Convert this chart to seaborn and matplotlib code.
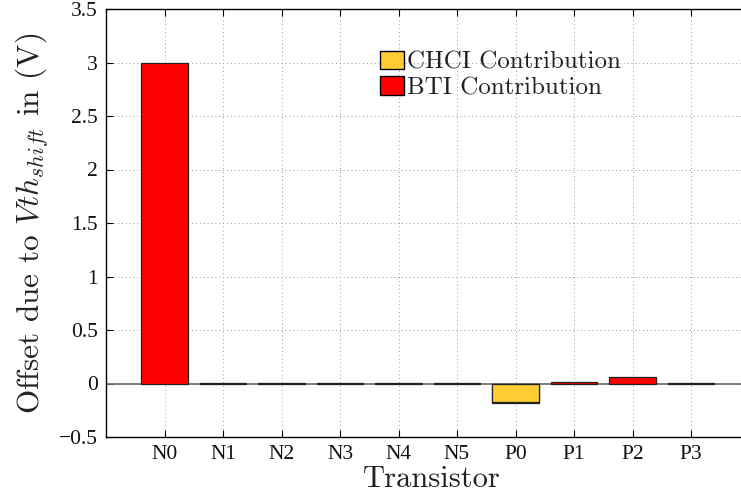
import numpy as np
import pandas as pd
import matplotlib
matplotlib.use("Agg")
import matplotlib.pyplot as plt
from matplotlib.patches import Patch
import seaborn as sns

transistors = ["N0", "N1", "N2", "N3", "N4", "N5", "P0", "P1", "P2", "P3"]
chci = [0.0, 0.0, 0.0, 0.0, 0.0, 0.0, -0.175, 0.0, 0.0, 0.0]
bti = [3.0, 0.004, 0.004, 0.004, 0.004, 0.004, -0.008, 0.014, 0.058, 0.004]
yticks = [-0.5, 0, 0.5, 1, 1.5, 2, 2.5, 3, 3.5]
ytick_labels = ["\u22120.5", "0", "0.5", "1", "1.5", "2", "2.5", "3", "3.5"]

sns.set_theme(style="white")
plt.rcParams["mathtext.fontset"] = "cm"
plt.rcParams["axes.unicode_minus"] = True

YELLOW = "#FFCC33"
RED = "#FF0000"

fig = plt.figure(figsize=(7.41, 4.99), dpi=100)
W, H = 741, 499
ax = fig.add_axes([106 / W, (499 - 437) / H, 643.5 / W, 428 / H])

total = [c + b for c, b in zip(chci, bti)]
df = pd.DataFrame({"Transistor": transistors, "total": total,
                   "chci": [c if c != 0 else np.nan for c in chci]})

ax.set_axisbelow(True)
sns.barplot(data=df, x="Transistor", y="total", order=transistors, color=RED,
            saturation=1, edgecolor="#202020", linewidth=0.9, width=0.8,
            errorbar=None, ax=ax, zorder=3)
sns.barplot(data=df, x="Transistor", y="chci", order=transistors, color=YELLOW,
            saturation=1, edgecolor="#202020", linewidth=0.9, width=0.8,
            errorbar=None, ax=ax, zorder=4)

ax.axhline(0, color="0.45", linewidth=1.3, zorder=2)

ax.set_xlim(-1, 10)
ax.set_ylim(-0.5, 3.5)
ax.set_yticks(yticks)
ax.set_yticklabels(ytick_labels)
ax.set_xticks(range(len(transistors)))
ax.set_xticklabels(transistors)

for lbl in ax.get_xticklabels() + ax.get_yticklabels():
    lbl.set_fontfamily("Liberation Serif")
    lbl.set_fontsize(15.5)
    lbl.set_color("#111111")

ax.tick_params(axis="both", direction="in", length=5, width=0.8, color="black",
               top=True, right=True, bottom=True, left=True, pad=6)

ax.grid(True, linestyle=(0, (1, 3)), color="0.6", linewidth=0.7, zorder=0)

for s in ax.spines.values():
    s.set_color("black")
    s.set_linewidth(1.0)
    s.set_visible(True)

ax.set_xlabel("Transistor", fontsize=22, family="cmr10", color="#222222")
ax.set_ylabel("Offset due to $Vth_{shift}$ in (V)", fontsize=22.5, family="cmr10",
              color="#222222")
ax.xaxis.set_label_coords(0.507, -0.066)
ax.yaxis.set_label_coords(-0.0855, 0.5)

handles = [Patch(facecolor=YELLOW, edgecolor="black", linewidth=1.0),
           Patch(facecolor=RED, edgecolor="black", linewidth=1.0)]
leg = fig.legend(handles, ["CHCI Contribution", "BTI Contribution"],
                 loc="upper left", bbox_to_anchor=(380 / W, 1 - 51 / H),
                 frameon=False, borderpad=0, borderaxespad=0,
                 handlelength=0.96, handleheight=0.76, handletextpad=0.12,
                 labelspacing=0.1, prop={"family": "cmr10", "size": 18})
for t in leg.get_texts():
    t.set_color("#222222")

fig.savefig("out.png", dpi=100)
